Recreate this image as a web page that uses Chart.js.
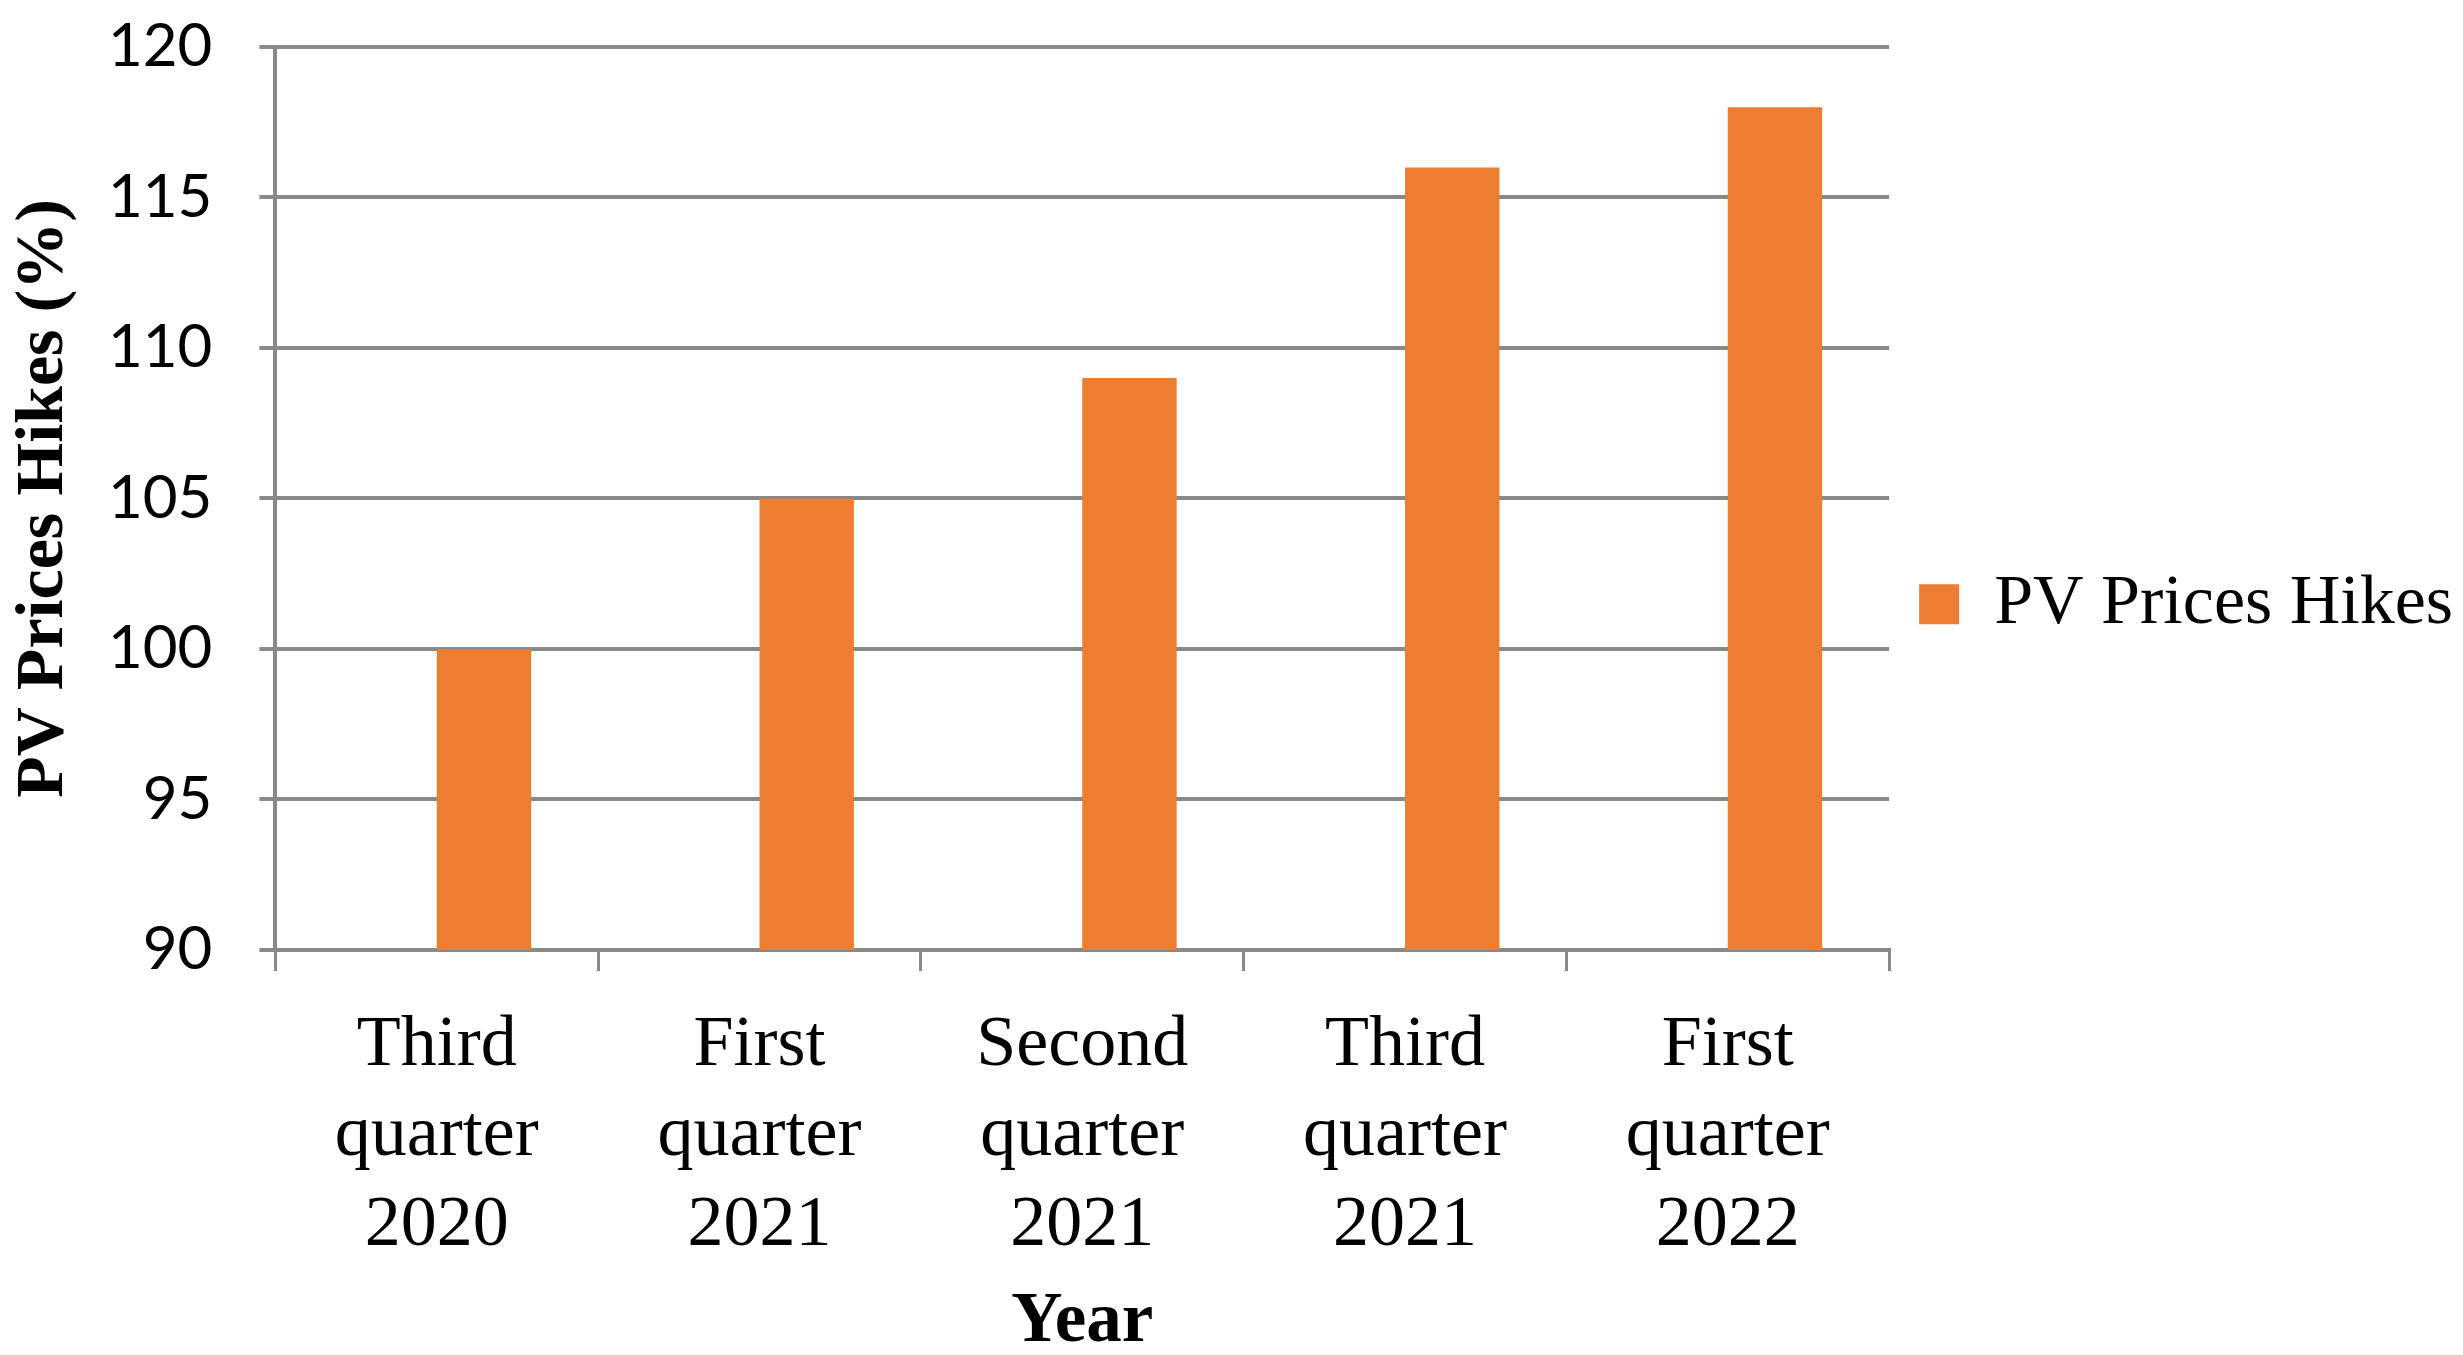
<!DOCTYPE html>
<html>
<head>
<meta charset="utf-8">
<script src="https://cdn.jsdelivr.net/npm/chart.js@4.4.1/dist/chart.umd.min.js"></script>
<style>
  html, body { margin: 0; padding: 0; background: #fff; }
  #wrap { width: 2463px; height: 1355px; }
</style>
</head>
<body>
<div id="wrap"><canvas id="chart"></canvas></div>
<script>
// data
const CATEGORIES = [
  ['Third', 'quarter', '2020'],
  ['First', 'quarter', '2021'],
  ['Second', 'quarter', '2021'],
  ['Third', 'quarter', '2021'],
  ['First', 'quarter', '2022'],
];
const SERIES_LABEL = 'PV Prices Hikes';
const VALUES = [100, 105, 109, 116, 118];
// the source chart has an empty first series, so the real bars sit right of centre
const EMPTY_SERIES = [null, null, null, null, null];
const Y_MIN = 90, Y_MAX = 120, Y_STEP = 5;

const ORANGE = '#ED7D31';
const GRID = '#898989';
const SERIF = '"Liberation Serif", "Times New Roman", serif';
const SANS = 'Lato, "Noto Sans", sans-serif';

new Chart(document.getElementById('chart'), {
  type: 'bar',
  data: {
    labels: CATEGORIES,
    datasets: [
      { label: '', data: EMPTY_SERIES, backgroundColor: 'rgba(0,0,0,0)' },
      { label: SERIES_LABEL, data: VALUES, backgroundColor: ORANGE },
    ].map(d => ({ ...d, borderWidth: 0, categoryPercentage: 0.585, barPercentage: 1 })),
  },
  options: {
    responsive: true, maintainAspectRatio: false,
    animation: false, devicePixelRatio: 1,
    layout: { padding: { top: 47, left: 0, right: 0, bottom: 0 } },
    plugins: {
      tooltip: { enabled: false },
      legend: {
        position: 'right',
        fullSize: false,
        // empty title only pushes the single entry down to where the reference has it
        title: { display: true, text: '', padding: { top: 0, bottom: 197 } },
        labels: {
          color: '#000',
          font: { family: SERIF, size: 70 },
          boxWidth: 40, boxHeight: 40,
          padding: 30,
          filter: item => item.text !== '',
        },
      },
    },
    scales: {
      x: {
        grid: { drawOnChartArea: false, color: GRID, lineWidth: 3, tickLength: 21 },
        border: { color: GRID, width: 4 },
        ticks: { color: '#000', font: { family: SERIF, size: 72, lineHeight: 1.25 }, padding: 30, maxRotation: 0 },
        title: {
          display: true, text: 'Year', color: '#000',
          font: { family: SERIF, size: 71, weight: 'bold', lineHeight: 0.62 },
          padding: { top: 0, bottom: 10 },
        },
      },
      y: {
        min: Y_MIN, max: Y_MAX,
        grid: { color: GRID, lineWidth: 4, tickLength: 16 },
        border: { color: GRID, width: 4 },
        ticks: { stepSize: Y_STEP, color: '#000', font: { family: SANS, size: 60 }, padding: 47 },
        title: {
          display: true, text: 'PV Prices Hikes (%)', color: '#000',
          font: { family: SERIF, size: 68, weight: 'bold', lineHeight: 0.5 },
          padding: { top: 27, bottom: 0 },
        },
        // tick padding would otherwise be added above the top gridline
        afterFit: s => { s.paddingTop = 0; },
      },
    },
  },
});
</script>
</body>
</html>
